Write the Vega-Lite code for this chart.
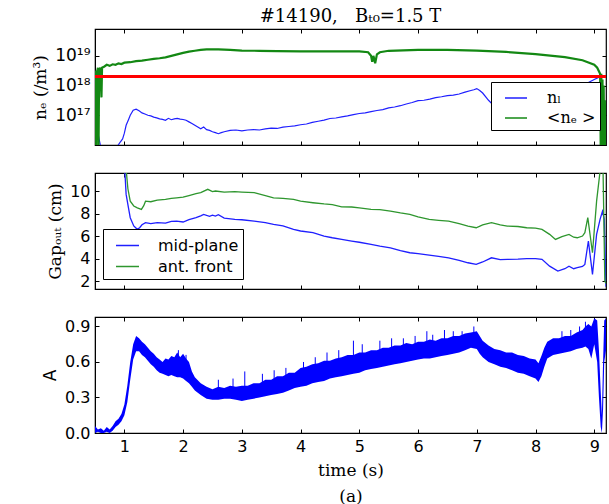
{
  "$schema": "https://vega.github.io/schema/vega-lite/v6.json",
  "background": "white",
  "padding": {"left": 31, "right": 5, "top": 6, "bottom": 0},
  "spacing": 24,
  "config": {
    "view": {"stroke": "black", "strokeWidth": 1.2},
    "axis": {"grid": false, "domainColor": "black", "tickColor": "black", "labelColor": "black", "titleColor": "black", "tickSize": -4, "labelFont": "DejaVu Sans", "labelFontSize": 16, "titleFont": "DejaVu Serif", "titleFontSize": 17, "titleFontWeight": "normal", "labelPadding": 9, "titlePadding": 5},
    "title": {"font": "DejaVu Serif", "fontSize": 18, "fontWeight": "normal", "color": "black"}
  },
  "resolve": {"scale": {"color": "independent"}, "legend": {"color": "independent"}},
  "datasets": {
    "ne": [
      {"t":0.5,"v":1.6e17,"s":"nₗ"},{"t":0.53,"v":6.3e16,"s":"nₗ"},{"t":0.56,"v":2e16,"s":"nₗ"},{"t":0.6,"v":8e15,"s":"nₗ"},{"t":0.65,"v":3e15,"s":"nₗ"},{"t":0.85,"v":3e15,"s":"nₗ"},{"t":0.88,"v":9e15,"s":"nₗ"},{"t":0.93,"v":1.26e16,"s":"nₗ"},{"t":0.97,"v":1.6e16,"s":"nₗ"},{"t":1.0,"v":2.5e16,"s":"nₗ"},{"t":1.03,"v":4.6e16,"s":"nₗ"},{"t":1.07,"v":7.1e16,"s":"nₗ"},{"t":1.1,"v":1e17,"s":"nₗ"},{"t":1.15,"v":1.48e17,"s":"nₗ"},{"t":1.2,"v":1.6e17,"s":"nₗ"},{"t":1.25,"v":1.41e17,"s":"nₗ"},{"t":1.3,"v":1.2e17,"s":"nₗ"},{"t":1.35,"v":1.1e17,"s":"nₗ"},{"t":1.4,"v":1e17,"s":"nₗ"},{"t":1.45,"v":9.5e16,"s":"nₗ"},{"t":1.5,"v":8.7e16,"s":"nₗ"},{"t":1.55,"v":8.2e16,"s":"nₗ"},{"t":1.6,"v":7.6e16,"s":"nₗ"},{"t":1.65,"v":7.3e16,"s":"nₗ"},{"t":1.7,"v":6.8e16,"s":"nₗ"},{"t":1.75,"v":7.9e16,"s":"nₗ"},{"t":1.8,"v":7.1e16,"s":"nₗ"},{"t":1.85,"v":7.6e16,"s":"nₗ"},{"t":1.9,"v":7.9e16,"s":"nₗ"},{"t":1.95,"v":7.4e16,"s":"nₗ"},{"t":2.0,"v":7.2e16,"s":"nₗ"},{"t":2.05,"v":6.8e16,"s":"nₗ"},{"t":2.1,"v":6e16,"s":"nₗ"},{"t":2.15,"v":5.3e16,"s":"nₗ"},{"t":2.2,"v":4.6e16,"s":"nₗ"},{"t":2.25,"v":4e16,"s":"nₗ"},{"t":2.3,"v":3.5e16,"s":"nₗ"},{"t":2.35,"v":4e16,"s":"nₗ"},{"t":2.4,"v":3.3e16,"s":"nₗ"},{"t":2.45,"v":3.1e16,"s":"nₗ"},{"t":2.5,"v":2.8e16,"s":"nₗ"},{"t":2.55,"v":2.6e16,"s":"nₗ"},{"t":2.6,"v":2.4e16,"s":"nₗ"},{"t":2.65,"v":2.6e16,"s":"nₗ"},{"t":2.7,"v":2.8e16,"s":"nₗ"},{"t":2.8,"v":3.1e16,"s":"nₗ"},{"t":2.9,"v":3.2e16,"s":"nₗ"},{"t":3.0,"v":3e16,"s":"nₗ"},{"t":3.1,"v":3.2e16,"s":"nₗ"},{"t":3.2,"v":3.3e16,"s":"nₗ"},{"t":3.3,"v":3.2e16,"s":"nₗ"},{"t":3.4,"v":3.5e16,"s":"nₗ"},{"t":3.5,"v":3.7e16,"s":"nₗ"},{"t":3.6,"v":3.6e16,"s":"nₗ"},{"t":3.7,"v":4e16,"s":"nₗ"},{"t":3.8,"v":4.2e16,"s":"nₗ"},{"t":3.9,"v":4.4e16,"s":"nₗ"},{"t":4.0,"v":4.8e16,"s":"nₗ"},{"t":4.1,"v":5.1e16,"s":"nₗ"},{"t":4.2,"v":5.8e16,"s":"nₗ"},{"t":4.3,"v":6.3e16,"s":"nₗ"},{"t":4.4,"v":6.9e16,"s":"nₗ"},{"t":4.5,"v":7.8e16,"s":"nₗ"},{"t":4.6,"v":8.1e16,"s":"nₗ"},{"t":4.7,"v":8.8e16,"s":"nₗ"},{"t":4.8,"v":9.5e16,"s":"nₗ"},{"t":4.9,"v":1.05e17,"s":"nₗ"},{"t":5.0,"v":1.15e17,"s":"nₗ"},{"t":5.1,"v":1.2e17,"s":"nₗ"},{"t":5.2,"v":1.32e17,"s":"nₗ"},{"t":5.3,"v":1.45e17,"s":"nₗ"},{"t":5.4,"v":1.55e17,"s":"nₗ"},{"t":5.5,"v":1.78e17,"s":"nₗ"},{"t":5.6,"v":1.9e17,"s":"nₗ"},{"t":5.7,"v":2.1e17,"s":"nₗ"},{"t":5.8,"v":2.4e17,"s":"nₗ"},{"t":5.9,"v":2.7e17,"s":"nₗ"},{"t":6.0,"v":3.1e17,"s":"nₗ"},{"t":6.1,"v":3.2e17,"s":"nₗ"},{"t":6.2,"v":3.5e17,"s":"nₗ"},{"t":6.3,"v":3.9e17,"s":"nₗ"},{"t":6.4,"v":4.2e17,"s":"nₗ"},{"t":6.5,"v":4.6e17,"s":"nₗ"},{"t":6.6,"v":4.8e17,"s":"nₗ"},{"t":6.7,"v":5.2e17,"s":"nₗ"},{"t":6.8,"v":6e17,"s":"nₗ"},{"t":6.9,"v":6.8e17,"s":"nₗ"},{"t":6.95,"v":7.2e17,"s":"nₗ"},{"t":7.0,"v":7.9e17,"s":"nₗ"},{"t":7.05,"v":6.8e17,"s":"nₗ"},{"t":7.1,"v":5.6e17,"s":"nₗ"},{"t":7.2,"v":3.2e17,"s":"nₗ"},{"t":7.3,"v":2e17,"s":"nₗ"},{"t":7.5,"v":1.6e17,"s":"nₗ"},{"t":8.0,"v":2.5e17,"s":"nₗ"},{"t":8.5,"v":5e17,"s":"nₗ"},{"t":8.8,"v":1e18,"s":"nₗ"},{"t":9.0,"v":1.6e18,"s":"nₗ"},{"t":9.1,"v":2e18,"s":"nₗ"},{"t":9.15,"v":1e17,"s":"nₗ"},{"t":9.2,"v":3.2e16,"s":"nₗ"},
      {"t":0.5,"v":2e18,"s":"<nₑ >"},{"t":0.51,"v":3.2e18,"s":"<nₑ >"},{"t":0.52,"v":1e16,"s":"<nₑ >"},{"t":0.53,"v":2.5e18,"s":"<nₑ >"},{"t":0.55,"v":4e18,"s":"<nₑ >"},{"t":0.56,"v":6e15,"s":"<nₑ >"},{"t":0.57,"v":3.2e18,"s":"<nₑ >"},{"t":0.59,"v":4e18,"s":"<nₑ >"},{"t":0.61,"v":4e17,"s":"<nₑ >"},{"t":0.62,"v":4e18,"s":"<nₑ >"},{"t":0.66,"v":4.4e18,"s":"<nₑ >"},{"t":0.7,"v":5e18,"s":"<nₑ >"},{"t":0.75,"v":4.6e18,"s":"<nₑ >"},{"t":0.8,"v":5.2e18,"s":"<nₑ >"},{"t":0.85,"v":5e18,"s":"<nₑ >"},{"t":0.9,"v":5.6e18,"s":"<nₑ >"},{"t":0.95,"v":5.3e18,"s":"<nₑ >"},{"t":1.0,"v":5.9e18,"s":"<nₑ >"},{"t":1.1,"v":6.1e18,"s":"<nₑ >"},{"t":1.2,"v":6.6e18,"s":"<nₑ >"},{"t":1.3,"v":6.9e18,"s":"<nₑ >"},{"t":1.4,"v":7.4e18,"s":"<nₑ >"},{"t":1.5,"v":7.9e18,"s":"<nₑ >"},{"t":1.6,"v":8.3e18,"s":"<nₑ >"},{"t":1.7,"v":8.9e18,"s":"<nₑ >"},{"t":1.8,"v":1e19,"s":"<nₑ >"},{"t":1.9,"v":1.12e19,"s":"<nₑ >"},{"t":2.0,"v":1.26e19,"s":"<nₑ >"},{"t":2.1,"v":1.38e19,"s":"<nₑ >"},{"t":2.2,"v":1.48e19,"s":"<nₑ >"},{"t":2.3,"v":1.58e19,"s":"<nₑ >"},{"t":2.4,"v":1.66e19,"s":"<nₑ >"},{"t":2.6,"v":1.66e19,"s":"<nₑ >"},{"t":2.8,"v":1.58e19,"s":"<nₑ >"},{"t":3.0,"v":1.5e19,"s":"<nₑ >"},{"t":3.3,"v":1.48e19,"s":"<nₑ >"},{"t":3.6,"v":1.45e19,"s":"<nₑ >"},{"t":4.0,"v":1.41e19,"s":"<nₑ >"},{"t":4.5,"v":1.41e19,"s":"<nₑ >"},{"t":5.0,"v":1.41e19,"s":"<nₑ >"},{"t":5.15,"v":1.32e19,"s":"<nₑ >"},{"t":5.2,"v":1e19,"s":"<nₑ >"},{"t":5.22,"v":6.3e18,"s":"<nₑ >"},{"t":5.24,"v":1e19,"s":"<nₑ >"},{"t":5.27,"v":5.6e18,"s":"<nₑ >"},{"t":5.3,"v":1.12e19,"s":"<nₑ >"},{"t":5.35,"v":1.32e19,"s":"<nₑ >"},{"t":5.5,"v":1.48e19,"s":"<nₑ >"},{"t":6.0,"v":1.58e19,"s":"<nₑ >"},{"t":6.5,"v":1.58e19,"s":"<nₑ >"},{"t":7.0,"v":1.5e19,"s":"<nₑ >"},{"t":7.5,"v":1.35e19,"s":"<nₑ >"},{"t":8.0,"v":1.15e19,"s":"<nₑ >"},{"t":8.5,"v":9.1e18,"s":"<nₑ >"},{"t":8.8,"v":7.1e18,"s":"<nₑ >"},{"t":9.0,"v":5e18,"s":"<nₑ >"},{"t":9.05,"v":4e18,"s":"<nₑ >"},{"t":9.1,"v":2.5e18,"s":"<nₑ >"},{"t":9.11,"v":1e16,"s":"<nₑ >"},{"t":9.12,"v":2.5e18,"s":"<nₑ >"},{"t":9.13,"v":6e15,"s":"<nₑ >"},{"t":9.14,"v":1.6e18,"s":"<nₑ >"},{"t":9.15,"v":6e15,"s":"<nₑ >"},{"t":9.16,"v":1e18,"s":"<nₑ >"},{"t":9.17,"v":6e15,"s":"<nₑ >"},{"t":9.18,"v":3.2e17,"s":"<nₑ >"},{"t":9.19,"v":6e15,"s":"<nₑ >"},{"t":9.2,"v":1e17,"s":"<nₑ >"}
    ],
    "ref": [{"t": 0.5, "v": 2e18}],
    "gap": [
      {"t":1.0,"v":12.5,"s":"mid-plane"},{"t":1.03,"v":9.7,"s":"mid-plane"},{"t":1.07,"v":8.5,"s":"mid-plane"},{"t":1.1,"v":7.63,"s":"mid-plane"},{"t":1.16,"v":6.9,"s":"mid-plane"},{"t":1.22,"v":6.6,"s":"mid-plane"},{"t":1.26,"v":6.74,"s":"mid-plane"},{"t":1.3,"v":7.0,"s":"mid-plane"},{"t":1.36,"v":7.19,"s":"mid-plane"},{"t":1.45,"v":7.1,"s":"mid-plane"},{"t":1.56,"v":7.2,"s":"mid-plane"},{"t":1.7,"v":7.15,"s":"mid-plane"},{"t":1.8,"v":7.3,"s":"mid-plane"},{"t":1.89,"v":7.33,"s":"mid-plane"},{"t":2.0,"v":7.25,"s":"mid-plane"},{"t":2.1,"v":7.45,"s":"mid-plane"},{"t":2.22,"v":7.63,"s":"mid-plane"},{"t":2.3,"v":7.8,"s":"mid-plane"},{"t":2.35,"v":7.93,"s":"mid-plane"},{"t":2.45,"v":7.75,"s":"mid-plane"},{"t":2.5,"v":7.85,"s":"mid-plane"},{"t":2.55,"v":7.78,"s":"mid-plane"},{"t":2.6,"v":7.9,"s":"mid-plane"},{"t":2.7,"v":7.6,"s":"mid-plane"},{"t":2.88,"v":7.48,"s":"mid-plane"},{"t":3.0,"v":7.45,"s":"mid-plane"},{"t":3.21,"v":7.33,"s":"mid-plane"},{"t":3.4,"v":7.2,"s":"mid-plane"},{"t":3.54,"v":7.04,"s":"mid-plane"},{"t":3.7,"v":6.9,"s":"mid-plane"},{"t":3.88,"v":6.59,"s":"mid-plane"},{"t":4.0,"v":6.45,"s":"mid-plane"},{"t":4.21,"v":6.3,"s":"mid-plane"},{"t":4.4,"v":6.0,"s":"mid-plane"},{"t":4.54,"v":5.85,"s":"mid-plane"},{"t":4.7,"v":5.7,"s":"mid-plane"},{"t":4.87,"v":5.56,"s":"mid-plane"},{"t":5.0,"v":5.45,"s":"mid-plane"},{"t":5.2,"v":5.26,"s":"mid-plane"},{"t":5.35,"v":5.1,"s":"mid-plane"},{"t":5.53,"v":4.96,"s":"mid-plane"},{"t":5.7,"v":4.7,"s":"mid-plane"},{"t":5.86,"v":4.52,"s":"mid-plane"},{"t":6.0,"v":4.45,"s":"mid-plane"},{"t":6.19,"v":4.31,"s":"mid-plane"},{"t":6.35,"v":4.2,"s":"mid-plane"},{"t":6.52,"v":4.07,"s":"mid-plane"},{"t":6.7,"v":3.85,"s":"mid-plane"},{"t":6.85,"v":3.63,"s":"mid-plane"},{"t":6.99,"v":3.48,"s":"mid-plane"},{"t":7.1,"v":3.7,"s":"mid-plane"},{"t":7.25,"v":4.07,"s":"mid-plane"},{"t":7.4,"v":3.9,"s":"mid-plane"},{"t":7.52,"v":3.93,"s":"mid-plane"},{"t":7.7,"v":3.95,"s":"mid-plane"},{"t":7.85,"v":4.0,"s":"mid-plane"},{"t":8.0,"v":4.0,"s":"mid-plane"},{"t":8.11,"v":3.93,"s":"mid-plane"},{"t":8.24,"v":3.33,"s":"mid-plane"},{"t":8.38,"v":2.89,"s":"mid-plane"},{"t":8.5,"v":3.1,"s":"mid-plane"},{"t":8.57,"v":3.33,"s":"mid-plane"},{"t":8.65,"v":3.1,"s":"mid-plane"},{"t":8.71,"v":3.19,"s":"mid-plane"},{"t":8.8,"v":3.3,"s":"mid-plane"},{"t":8.84,"v":3.48,"s":"mid-plane"},{"t":8.9,"v":5.56,"s":"mid-plane"},{"t":8.97,"v":2.6,"s":"mid-plane"},{"t":9.04,"v":6.15,"s":"mid-plane"},{"t":9.1,"v":7.5,"s":"mid-plane"},{"t":9.14,"v":8.2,"s":"mid-plane"},{"t":9.17,"v":7.5,"s":"mid-plane"},{"t":9.2,"v":1.5,"s":"mid-plane"},
      {"t":1.02,"v":12.5,"s":"ant. front"},{"t":1.06,"v":10.2,"s":"ant. front"},{"t":1.1,"v":9.1,"s":"ant. front"},{"t":1.16,"v":8.67,"s":"ant. front"},{"t":1.22,"v":8.5,"s":"ant. front"},{"t":1.29,"v":8.37,"s":"ant. front"},{"t":1.33,"v":8.7,"s":"ant. front"},{"t":1.36,"v":9.1,"s":"ant. front"},{"t":1.45,"v":9.05,"s":"ant. front"},{"t":1.56,"v":9.2,"s":"ant. front"},{"t":1.7,"v":9.25,"s":"ant. front"},{"t":1.8,"v":9.35,"s":"ant. front"},{"t":1.89,"v":9.4,"s":"ant. front"},{"t":2.0,"v":9.45,"s":"ant. front"},{"t":2.1,"v":9.6,"s":"ant. front"},{"t":2.22,"v":9.76,"s":"ant. front"},{"t":2.3,"v":9.85,"s":"ant. front"},{"t":2.42,"v":10.15,"s":"ant. front"},{"t":2.5,"v":9.95,"s":"ant. front"},{"t":2.55,"v":10.0,"s":"ant. front"},{"t":2.7,"v":9.9,"s":"ant. front"},{"t":2.88,"v":9.94,"s":"ant. front"},{"t":3.0,"v":9.9,"s":"ant. front"},{"t":3.21,"v":9.85,"s":"ant. front"},{"t":3.4,"v":9.6,"s":"ant. front"},{"t":3.54,"v":9.4,"s":"ant. front"},{"t":3.7,"v":9.35,"s":"ant. front"},{"t":3.88,"v":9.26,"s":"ant. front"},{"t":4.0,"v":9.1,"s":"ant. front"},{"t":4.21,"v":8.96,"s":"ant. front"},{"t":4.4,"v":8.85,"s":"ant. front"},{"t":4.54,"v":8.8,"s":"ant. front"},{"t":4.7,"v":8.6,"s":"ant. front"},{"t":4.87,"v":8.58,"s":"ant. front"},{"t":5.0,"v":8.5,"s":"ant. front"},{"t":5.2,"v":8.37,"s":"ant. front"},{"t":5.35,"v":8.35,"s":"ant. front"},{"t":5.53,"v":8.22,"s":"ant. front"},{"t":5.7,"v":8.05,"s":"ant. front"},{"t":5.86,"v":7.93,"s":"ant. front"},{"t":6.0,"v":7.7,"s":"ant. front"},{"t":6.19,"v":7.48,"s":"ant. front"},{"t":6.35,"v":7.4,"s":"ant. front"},{"t":6.52,"v":7.33,"s":"ant. front"},{"t":6.7,"v":7.1,"s":"ant. front"},{"t":6.85,"v":6.89,"s":"ant. front"},{"t":6.99,"v":6.74,"s":"ant. front"},{"t":7.1,"v":7.0,"s":"ant. front"},{"t":7.25,"v":7.19,"s":"ant. front"},{"t":7.4,"v":7.0,"s":"ant. front"},{"t":7.52,"v":6.89,"s":"ant. front"},{"t":7.7,"v":6.85,"s":"ant. front"},{"t":7.85,"v":6.74,"s":"ant. front"},{"t":8.0,"v":6.7,"s":"ant. front"},{"t":8.11,"v":6.59,"s":"ant. front"},{"t":8.24,"v":6.15,"s":"ant. front"},{"t":8.34,"v":5.7,"s":"ant. front"},{"t":8.45,"v":5.95,"s":"ant. front"},{"t":8.57,"v":6.15,"s":"ant. front"},{"t":8.65,"v":5.9,"s":"ant. front"},{"t":8.71,"v":5.85,"s":"ant. front"},{"t":8.8,"v":6.0,"s":"ant. front"},{"t":8.84,"v":6.3,"s":"ant. front"},{"t":8.89,"v":7.63,"s":"ant. front"},{"t":8.97,"v":4.52,"s":"ant. front"},{"t":9.04,"v":9.1,"s":"ant. front"},{"t":9.1,"v":11.8,"s":"ant. front"},{"t":9.15,"v":11.8,"s":"ant. front"},{"t":9.18,"v":2.0,"s":"ant. front"},{"t":9.2,"v":1.8,"s":"ant. front"}
    ],
    "amp": [
      {"t":0.5,"lo":0.0,"hi":0.06},{"t":0.55,"lo":0.01,"hi":0.03},{"t":0.6,"lo":0.0,"hi":0.04},{"t":0.65,"lo":0.0,"hi":0.02},{"t":0.7,"lo":0.01,"hi":0.05},{"t":0.75,"lo":0.0,"hi":0.03},{"t":0.8,"lo":0.02,"hi":0.06},{"t":0.85,"lo":0.05,"hi":0.1},{"t":0.9,"lo":0.07,"hi":0.12},{"t":0.95,"lo":0.1,"hi":0.16},{"t":1.0,"lo":0.15,"hi":0.24},{"t":1.05,"lo":0.26,"hi":0.4},{"t":1.1,"lo":0.45,"hi":0.6},{"t":1.15,"lo":0.62,"hi":0.75},{"t":1.2,"lo":0.69,"hi":0.82},{"t":1.25,"lo":0.69,"hi":0.8},{"t":1.3,"lo":0.66,"hi":0.77},{"t":1.35,"lo":0.64,"hi":0.75},{"t":1.4,"lo":0.61,"hi":0.72},{"t":1.45,"lo":0.58,"hi":0.69},{"t":1.5,"lo":0.56,"hi":0.67},{"t":1.55,"lo":0.53,"hi":0.64},{"t":1.6,"lo":0.51,"hi":0.62},{"t":1.65,"lo":0.5,"hi":0.6},{"t":1.7,"lo":0.49,"hi":0.63},{"t":1.75,"lo":0.48,"hi":0.62},{"t":1.8,"lo":0.49,"hi":0.65},{"t":1.85,"lo":0.48,"hi":0.64},{"t":1.9,"lo":0.47,"hi":0.68},{"t":1.95,"lo":0.47,"hi":0.64},{"t":2.0,"lo":0.46,"hi":0.67},{"t":2.05,"lo":0.44,"hi":0.63},{"t":2.1,"lo":0.42,"hi":0.6},{"t":2.15,"lo":0.39,"hi":0.52},{"t":2.2,"lo":0.36,"hi":0.47},{"t":2.3,"lo":0.32,"hi":0.42},{"t":2.4,"lo":0.29,"hi":0.39},{"t":2.5,"lo":0.28,"hi":0.37},{"t":2.6,"lo":0.28,"hi":0.39},{"t":2.7,"lo":0.29,"hi":0.38},{"t":2.8,"lo":0.29,"hi":0.4},{"t":2.9,"lo":0.28,"hi":0.39},{"t":3.0,"lo":0.27,"hi":0.4},{"t":3.1,"lo":0.28,"hi":0.4},{"t":3.2,"lo":0.29,"hi":0.42},{"t":3.3,"lo":0.3,"hi":0.42},{"t":3.4,"lo":0.31,"hi":0.45},{"t":3.5,"lo":0.32,"hi":0.45},{"t":3.6,"lo":0.33,"hi":0.48},{"t":3.7,"lo":0.34,"hi":0.48},{"t":3.8,"lo":0.36,"hi":0.51},{"t":3.9,"lo":0.38,"hi":0.51},{"t":4.0,"lo":0.39,"hi":0.55},{"t":4.1,"lo":0.4,"hi":0.56},{"t":4.2,"lo":0.42,"hi":0.58},{"t":4.3,"lo":0.43,"hi":0.59},{"t":4.4,"lo":0.44,"hi":0.61},{"t":4.5,"lo":0.46,"hi":0.61},{"t":4.6,"lo":0.47,"hi":0.63},{"t":4.7,"lo":0.48,"hi":0.64},{"t":4.8,"lo":0.49,"hi":0.66},{"t":4.9,"lo":0.5,"hi":0.66},{"t":5.0,"lo":0.51,"hi":0.68},{"t":5.1,"lo":0.53,"hi":0.68},{"t":5.2,"lo":0.54,"hi":0.7},{"t":5.3,"lo":0.55,"hi":0.7},{"t":5.4,"lo":0.56,"hi":0.72},{"t":5.5,"lo":0.57,"hi":0.72},{"t":5.6,"lo":0.58,"hi":0.74},{"t":5.7,"lo":0.59,"hi":0.74},{"t":5.8,"lo":0.6,"hi":0.76},{"t":5.9,"lo":0.61,"hi":0.75},{"t":6.0,"lo":0.62,"hi":0.77},{"t":6.1,"lo":0.63,"hi":0.77},{"t":6.2,"lo":0.63,"hi":0.79},{"t":6.3,"lo":0.64,"hi":0.78},{"t":6.4,"lo":0.65,"hi":0.8},{"t":6.5,"lo":0.66,"hi":0.8},{"t":6.6,"lo":0.67,"hi":0.82},{"t":6.7,"lo":0.68,"hi":0.82},{"t":6.8,"lo":0.7,"hi":0.84},{"t":6.9,"lo":0.72,"hi":0.85},{"t":7.0,"lo":0.71,"hi":0.86},{"t":7.05,"lo":0.67,"hi":0.82},{"t":7.1,"lo":0.64,"hi":0.78},{"t":7.2,"lo":0.6,"hi":0.74},{"t":7.3,"lo":0.58,"hi":0.71},{"t":7.4,"lo":0.56,"hi":0.7},{"t":7.5,"lo":0.55,"hi":0.68},{"t":7.6,"lo":0.53,"hi":0.68},{"t":7.7,"lo":0.51,"hi":0.66},{"t":7.8,"lo":0.5,"hi":0.65},{"t":7.9,"lo":0.48,"hi":0.63},{"t":8.0,"lo":0.46,"hi":0.62},{"t":8.05,"lo":0.43,"hi":0.59},{"t":8.1,"lo":0.48,"hi":0.65},{"t":8.15,"lo":0.56,"hi":0.72},{"t":8.2,"lo":0.63,"hi":0.77},{"t":8.3,"lo":0.66,"hi":0.8},{"t":8.4,"lo":0.67,"hi":0.8},{"t":8.5,"lo":0.68,"hi":0.82},{"t":8.6,"lo":0.69,"hi":0.82},{"t":8.7,"lo":0.71,"hi":0.85},{"t":8.8,"lo":0.72,"hi":0.87},{"t":8.85,"lo":0.73,"hi":0.9},{"t":8.9,"lo":0.71,"hi":0.92},{"t":8.95,"lo":0.63,"hi":0.9},{"t":9.0,"lo":0.75,"hi":0.97},{"t":9.05,"lo":0.6,"hi":0.95},{"t":9.08,"lo":0.3,"hi":0.7},{"t":9.11,"lo":0.05,"hi":0.35},{"t":9.13,"lo":0.0,"hi":0.15},{"t":9.15,"lo":0.2,"hi":0.6},{"t":9.17,"lo":0.6,"hi":0.95},{"t":9.2,"lo":0.7,"hi":0.97}
    ],
    "spikes": [
      {"t":1.92,"lo":0.6,"hi":0.7},{"t":2.05,"lo":0.55,"hi":0.66},{"t":2.6,"lo":0.35,"hi":0.45},{"t":2.85,"lo":0.36,"hi":0.46},{"t":3.05,"lo":0.38,"hi":0.52},{"t":3.35,"lo":0.4,"hi":0.5},{"t":3.55,"lo":0.42,"hi":0.53},{"t":3.75,"lo":0.45,"hi":0.55},{"t":4.05,"lo":0.5,"hi":0.6},{"t":4.25,"lo":0.52,"hi":0.64},{"t":4.45,"lo":0.55,"hi":0.68},{"t":4.65,"lo":0.58,"hi":0.7},{"t":4.9,"lo":0.6,"hi":0.78},{"t":5.05,"lo":0.62,"hi":0.75},{"t":5.35,"lo":0.65,"hi":0.78},{"t":5.55,"lo":0.68,"hi":0.8},{"t":5.75,"lo":0.69,"hi":0.8},{"t":5.95,"lo":0.7,"hi":0.82},{"t":6.15,"lo":0.72,"hi":0.86},{"t":6.25,"lo":0.72,"hi":0.83},{"t":6.45,"lo":0.75,"hi":0.87},{"t":6.6,"lo":0.76,"hi":0.86},{"t":6.75,"lo":0.76,"hi":0.86},{"t":6.95,"lo":0.78,"hi":0.9},{"t":8.45,"lo":0.75,"hi":0.86},{"t":8.6,"lo":0.76,"hi":0.87},{"t":8.75,"lo":0.78,"hi":0.9},{"t":8.85,"lo":0.8,"hi":0.94}
    ]
  },
  "vconcat": [
    {
      "width": 511, "height": 116,
      "title": {"text": "#14190,\u00a0\u00a0\u00a0Bₜ₀=1.5 T", "anchor": "middle", "frame": "group", "offset": 5, "dy": 2},
      "resolve": {"axis": {"x": "independent", "y": "independent"}},
      "layer": [
        {
          "data": {"name": "ne"},
          "mark": {"type": "line", "clip": true},
          "encoding": {
            "x": {"field": "t", "type": "quantitative", "scale": {"domain": [0.5, 9.2], "nice": false, "zero": false}, "axis": {"values": [1,2,3,4,5,6,7,8,9], "labels": false, "title": null, "minExtent": 0}},
            "y": {"field": "v", "type": "quantitative", "scale": {"type": "log", "domain": [1e16, 8e19], "nice": false}, "axis": {"values": [1e17, 1e18, 1e19], "labelFontSize": 17, "labelExpr": "datum.value > 5e18 ? '10¹⁹' : datum.value > 5e17 ? '10¹⁸' : '10¹⁷'", "title": "nₑ (/m³)"}},
            "color": {"field": "s", "type": "nominal", "scale": {"domain": ["nₗ", "<nₑ >"], "range": ["#1f1fff", "#138813"]}, "legend": {"title": null, "orient": "none", "legendX": 396, "legendY": 53, "symbolType": "stroke", "symbolSize": 484, "symbolStrokeWidth": 1.5, "symbolOffset": 9, "labelFont": "DejaVu Serif", "labelFontSize": 16, "labelColor": "black", "labelOffset": 19, "padding": 4, "rowPadding": 0, "strokeColor": "black", "fillColor": "white", "cornerRadius": 0}},
            "strokeWidth": {"field": "s", "type": "nominal", "scale": {"domain": ["nₗ", "<nₑ >"], "range": [1.2, 2.2]}, "legend": null}
          }
        },
        {
          "data": {"name": "ref"},
          "mark": {"type": "rule", "color": "#ff0000", "strokeWidth": 3},
          "encoding": {"y": {"field": "v", "type": "quantitative", "axis": null}}
        },
        {
          "data": {"name": "ne"},
          "mark": {"type": "line", "opacity": 0, "clip": true},
          "encoding": {
            "x": {"field": "t", "type": "quantitative", "axis": {"orient": "top", "values": [1,2,3,4,5,6,7,8,9], "labels": false, "title": null, "domain": false, "minExtent": 0}},
            "y": {"field": "v", "type": "quantitative", "axis": {"orient": "right", "values": [1e17, 1e18, 1e19], "labels": false, "title": null, "domain": false, "minExtent": 0}}
          }
        }
      ]
    },
    {
      "width": 511, "height": 116,
      "resolve": {"axis": {"x": "independent", "y": "independent"}},
      "layer": [
        {
          "data": {"name": "gap"},
          "mark": {"type": "line", "strokeWidth": 1.3, "clip": true},
          "encoding": {
            "x": {"field": "t", "type": "quantitative", "scale": {"domain": [0.5, 9.2], "nice": false, "zero": false}, "axis": {"values": [1,2,3,4,5,6,7,8,9], "labels": false, "title": null, "minExtent": 0}},
            "y": {"field": "v", "type": "quantitative", "scale": {"domain": [1.3, 11.6], "nice": false, "zero": false}, "axis": {"values": [2,4,6,8,10], "title": "Gapₒᵤₜ (cm)"}},
            "color": {"field": "s", "type": "nominal", "scale": {"domain": ["mid-plane", "ant. front"], "range": ["#1f1fff", "#2e962e"]}, "legend": {"title": null, "orient": "none", "legendX": 8, "legendY": 56, "symbolType": "stroke", "symbolSize": 529, "symbolStrokeWidth": 1.5, "symbolOffset": 8, "labelFont": "DejaVu Sans", "labelFontSize": 16, "labelColor": "black", "labelOffset": 18, "padding": 4, "rowPadding": -1, "strokeColor": "black", "fillColor": "white", "cornerRadius": 0}}
          }
        },
        {
          "data": {"name": "gap"},
          "mark": {"type": "line", "opacity": 0, "clip": true},
          "encoding": {
            "x": {"field": "t", "type": "quantitative", "axis": {"orient": "top", "values": [1,2,3,4,5,6,7,8,9], "labels": false, "title": null, "domain": false, "minExtent": 0}},
            "y": {"field": "v", "type": "quantitative", "axis": {"orient": "right", "values": [2,4,6,8,10], "labels": false, "title": null, "domain": false, "minExtent": 0}}
          }
        }
      ]
    },
    {
      "width": 511, "height": 116,
      "resolve": {"axis": {"x": "independent", "y": "independent"}},
      "layer": [
        {
          "data": {"name": "amp"},
          "mark": {"type": "area", "color": "#0000ff", "clip": true, "opacity": 1},
          "encoding": {
            "x": {"field": "t", "type": "quantitative", "scale": {"domain": [0.5, 9.2], "nice": false, "zero": false}, "axis": {"values": [1,2,3,4,5,6,7,8,9], "format": "d", "title": ["time (s)", "(a)"], "titleLineHeight": 26, "titlePadding": 8}},
            "y": {"field": "hi", "type": "quantitative", "scale": {"domain": [0, 0.98], "nice": false, "zero": false}, "axis": {"values": [0, 0.3, 0.6, 0.9], "format": ".1f", "title": "A", "titleFont": "DejaVu Sans"}},
            "y2": {"field": "lo"}
          }
        },
        {
          "data": {"name": "spikes"},
          "mark": {"type": "rule", "color": "#0000ff", "strokeWidth": 1, "clip": true},
          "encoding": {
            "x": {"field": "t", "type": "quantitative", "axis": null},
            "y": {"field": "lo", "type": "quantitative", "axis": null},
            "y2": {"field": "hi"}
          }
        },
        {
          "data": {"name": "amp"},
          "mark": {"type": "line", "opacity": 0, "clip": true},
          "encoding": {
            "x": {"field": "t", "type": "quantitative", "axis": {"orient": "top", "values": [1,2,3,4,5,6,7,8,9], "labels": false, "title": null, "domain": false, "minExtent": 0}},
            "y": {"field": "hi", "type": "quantitative", "axis": {"orient": "right", "values": [0, 0.3, 0.6, 0.9], "labels": false, "title": null, "domain": false, "minExtent": 0}}
          }
        }
      ]
    }
  ]
}
